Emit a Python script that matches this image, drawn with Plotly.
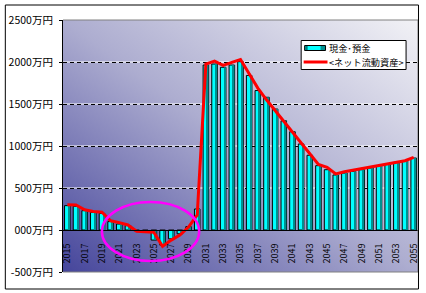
import base64
import plotly.graph_objects as go

years = [str(y) for y in range(2015, 2056)]
cash = [290, 282, 230, 210, 198, 100, 71, 52, -8, -15,
        -120, -180, -105, -45, 40, 250, 1964, 1976, 1937, 1964,
        2004, 1840, 1660, 1580, 1440, 1300, 1170, 1024, 890, 766,
        718, 655, 678, 698, 718, 738, 765, 786, 806, 825, 857]
net = [300, 298, 240, 220, 212, 110, 88, 60, -15, -25,
       -28, -195, -120, -60, 35, 180, 1975, 2010, 1960, 1995,
       2030, 1860, 1690, 1550, 1420, 1292, 1167, 1036, 908, 780,
       746, 667, 694, 714, 726, 746, 766, 786, 806, 825, 865]
x_ticks = [str(y) for y in range(2015, 2056, 2)]
y_tickvals = [-500, 0, 500, 1000, 1500, 2000, 2500]
y_ticktext = ["-500万円", "000万円", "500万円", "1000万円", "1500万円", "2000万円", "2500万円"]
grid_vals = [500, 1000, 1500, 2000]
name_cash = "現金･預金"
name_net = "<ネット流動資産>"

FONT = "Noto Sans CJK JP, Noto Sans, sans-serif"
YR = [-500, 2500]
L, T, W, H = 63, 20, 357, 252


def px(x):
    return (x - L) / W


def py(y):
    return (T + H - y) / H


svg = ("<svg xmlns='http://www.w3.org/2000/svg' width='357' height='252' viewBox='0 0 357 252' "
       "preserveAspectRatio='none'><defs><linearGradient id='g' x1='0' y1='1' x2='1' y2='0'>"
       "<stop offset='0' stop-color='#45459b'/><stop offset='0.5' stop-color='#adadd0'/>"
       "<stop offset='1' stop-color='#f2f2f6'/></linearGradient></defs>"
       "<rect width='357' height='252' fill='url(#g)'/></svg>")
src = "data:image/svg+xml;base64," + base64.b64encode(svg.encode()).decode()

fig = go.Figure()
fig.add_trace(go.Bar(x=years, y=cash, name=name_cash, width=0.64, offset=-0.32,
                     marker=dict(color="#00ffff", line=dict(color="black", width=1))))
fig.add_trace(go.Bar(x=years, y=cash, showlegend=False, width=0.18, offset=0.12,
                     marker=dict(color="#009090", line=dict(width=0)), hoverinfo="skip"))
fig.add_trace(go.Scatter(x=years, y=net, name=name_net, mode="lines", yaxis="y2",
                         line=dict(color="#ff0000", width=3)))

# ellipse spanning categories
i0 = years.index("2019") - 0.01
i1 = years.index("2030") + 0.23

legend_shapes = [
    dict(type="rect", xref="paper", yref="paper", x0=px(302.5), x1=px(408), y0=py(69.5), y1=py(40.5),
         fillcolor="white", line=dict(color="black", width=1)),
    dict(type="rect", xref="paper", yref="paper", x0=px(306), x1=px(327), y0=py(50.5), y1=py(45.5),
         fillcolor="#00ffff", line=dict(color="black", width=1)),
    dict(type="rect", xref="paper", yref="paper", x0=px(306.5), x1=px(309), y0=py(50), y1=py(46),
         fillcolor="#007878", line=dict(width=0)),
    dict(type="rect", xref="paper", yref="paper", x0=px(322), x1=px(326.5), y0=py(50), y1=py(46),
         fillcolor="#009090", line=dict(width=0)),
    dict(type="line", xref="paper", yref="paper", x0=px(305), x1=px(329), y0=py(62), y1=py(62),
         line=dict(color="#ff0000", width=3)),
]
legend_ann = [
    dict(text=name_cash, xref="paper", yref="paper", x=px(329), y=py(48), xanchor="left",
         yanchor="middle", showarrow=False, borderpad=0,
         font=dict(size=9.2, family=FONT, color="black")),
    dict(text=name_net, xref="paper", yref="paper", x=px(329), y=py(62), xanchor="left",
         yanchor="middle", showarrow=False, borderpad=0,
         font=dict(size=9.2, family=FONT, color="black")),
]

fig.update_layout(
    width=426, height=293,
    margin=dict(l=L, r=426 - L - W, t=T, b=293 - T - H),
    paper_bgcolor="white",
    plot_bgcolor="rgba(0,0,0,0)",
    barmode="overlay",
    font=dict(family=FONT, size=10, color="black"),
    showlegend=False,
    xaxis=dict(type="category", range=[-0.5, len(years) - 0.5],
               anchor="free", position=(0 - YR[0]) / (YR[1] - YR[0]),
               tickmode="array", tickvals=x_ticks, ticktext=x_ticks,
               tickangle=-90, tickfont=dict(size=9), ticks="",
               ticklabelstandoff=9,
               showline=True, linecolor="black", linewidth=1,
               showgrid=False, zeroline=False),
    yaxis=dict(range=YR, tickmode="array", tickvals=y_tickvals, ticktext=y_ticktext,
               showgrid=False, zeroline=False,
               showline=True, linecolor="black", linewidth=1,
               ticks="outside", ticklen=3, tickcolor="black",
               ticklabelstandoff=4, tickfont=dict(size=10.5)),
    yaxis2=dict(range=YR, overlaying="y", side="right", tickmode="array",
                tickvals=grid_vals, showticklabels=False, showline=False,
                showgrid=True, gridcolor="black", gridwidth=1, griddash="4px,3px",
                zeroline=False, ticks=""),
    images=[dict(source=src, xref="paper", yref="paper", x=0, y=1, sizex=1, sizey=1,
                 sizing="stretch", xanchor="left", yanchor="top", layer="below")],
    shapes=[
        *[dict(type="line", xref="paper", yref="y", x0=0, x1=1, y0=v, y1=v,
               line=dict(color="white", width=1), layer="below") for v in grid_vals],
        dict(type="line", xref="paper", yref="paper", x0=0, x1=1, y0=1, y1=1,
             line=dict(color="#808080", width=1)),
        dict(type="line", xref="paper", yref="paper", x0=0, x1=1, y0=0, y1=0,
             line=dict(color="#808080", width=1)),
        dict(type="line", xref="paper", yref="paper", x0=1, x1=1, y0=0, y1=1,
             line=dict(color="#808080", width=1)),
        dict(type="circle", xref="x", yref="y", x0=i0, x1=i1, y0=-369, y1=333,
             line=dict(color="#ff00ff", width=2.5)),
        dict(type="rect", xref="paper", yref="paper",
             x0=px(5), x1=px(420.5), y0=py(289), y1=py(5),
             line=dict(color="black", width=1)),
        *legend_shapes,
    ],
    annotations=legend_ann,
)

fig.write_html("out.html")
